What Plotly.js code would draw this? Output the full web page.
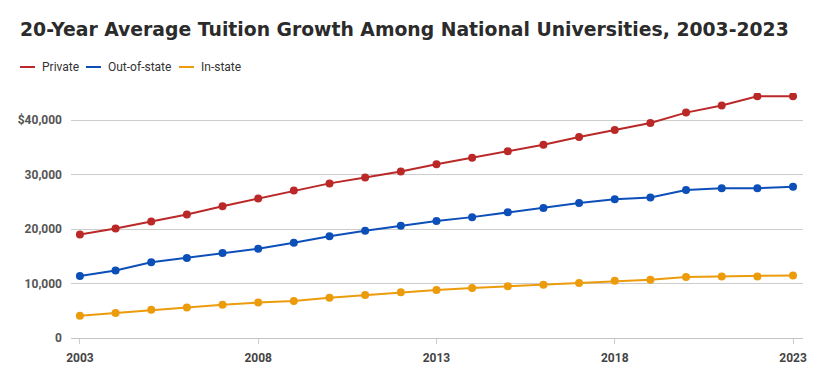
<!DOCTYPE html>
<html>
<head>
<meta charset="utf-8">
<script src="https://cdn.plot.ly/plotly-3.0.1.min.js"></script>
<style>
html,body{margin:0;padding:0;background:#fff;}
#chart{width:832px;height:382px;}
</style>
</head>
<body>
<div id="chart"></div>
<script>
const years = [2003,2004,2005,2006,2007,2008,2009,2010,2011,2012,2013,2014,2015,2016,2017,2018,2019,2020,2021,2022,2023];
const privateTuition = [19000,20100,21400,22700,24200,25600,27100,28400,29500,30600,31900,33100,34300,35500,36900,38200,39500,41400,42700,44400,44400];
const outOfStateTuition = [11400,12400,13900,14700,15600,16400,17500,18700,19700,20600,21500,22200,23100,23900,24800,25500,25800,27200,27500,27500,27800];
const inStateTuition = [4100,4600,5200,5600,6100,6500,6800,7400,7900,8400,8800,9200,9500,9800,10100,10500,10700,11200,11300,11300,11500];
const seriesNames = ['Private','Out-of-state','In-state'];
const yTickVals = [0,10000,20000,30000,40000];
const yTickText = ['0','10,000','20,000','30,000','$40,000'];
const xTickVals = [2003,2008,2013,2018,2023];

const colors = ['#bb2828','#0d4fb9','#ec9b0b'];
const series = [privateTuition, outOfStateTuition, inStateTuition];

const W = 832, H = 382;
const M = {l: 71, r: 29, t: 93, b: 44};
const pw = W - M.l - M.r, ph = H - M.t - M.b;
const px = x => (x - M.l) / pw;
const py = y => (H - M.b - y) / ph;

const traces = series.map((vals, i) => ({
  x: years, y: vals, name: seriesNames[i], type: 'scatter', mode: 'lines+markers',
  line: {color: colors[i], width: 2},
  marker: {color: colors[i], size: 8},
  showlegend: false
}));

// custom compact legend (line swatch + label)
const legendX = [20, 86, 179];
const legendY = 67;
const shapes = [];
const annotations = [];
seriesNames.forEach((name, i) => {
  shapes.push({type: 'line', xref: 'paper', yref: 'paper',
    x0: px(legendX[i]), x1: px(legendX[i] + 15), y0: py(legendY), y1: py(legendY),
    line: {color: colors[i], width: 2}});
  annotations.push({xref: 'paper', yref: 'paper', x: px(legendX[i] + 20), y: py(legendY),
    xanchor: 'left', yanchor: 'middle', text: name, showarrow: false,
    font: {family: 'Roboto', size: 12, color: '#333'}});
});

const layout = {
  width: W, height: H,
  paper_bgcolor: '#fff', plot_bgcolor: '#fff',
  margin: M,
  showlegend: false,
  title: {
    text: '20-Year Average Tuition Growth Among National Universities, 2003-2023',
    font: {family: 'DejaVu Sans', size: 18.8, color: '#2b2b2b', weight: 'bold'},
    x: 20/W, xanchor: 'left', xref: 'container',
    y: 1 - 29/H, yanchor: 'middle', yref: 'container'
  },
  shapes: shapes,
  annotations: annotations,
  xaxis: {
    range: [2002.75, 2023.28],
    tickvals: xTickVals,
    ticks: 'outside', ticklen: 5, tickcolor: '#ccc', tickwidth: 1,
    ticklabelstandoff: 4,
    tickfont: {family: 'Roboto', size: 12, color: '#444', weight: 'bold'},
    showgrid: false, zeroline: false, showline: false
  },
  yaxis: {
    range: [0, 45000],
    tickvals: yTickVals, ticktext: yTickText,
    tickfont: {family: 'Roboto', size: 12, color: '#555', weight: 'bold'},
    gridcolor: '#cccccc', gridwidth: 1,
    zeroline: true, zerolinecolor: '#c4c4c4', zerolinewidth: 1,
    ticks: '', ticklabelstandoff: 8,
    showline: false
  },
  hovermode: false
};

Plotly.newPlot('chart', traces, layout, {displayModeBar: false, staticPlot: true});
</script>
</body>
</html>
